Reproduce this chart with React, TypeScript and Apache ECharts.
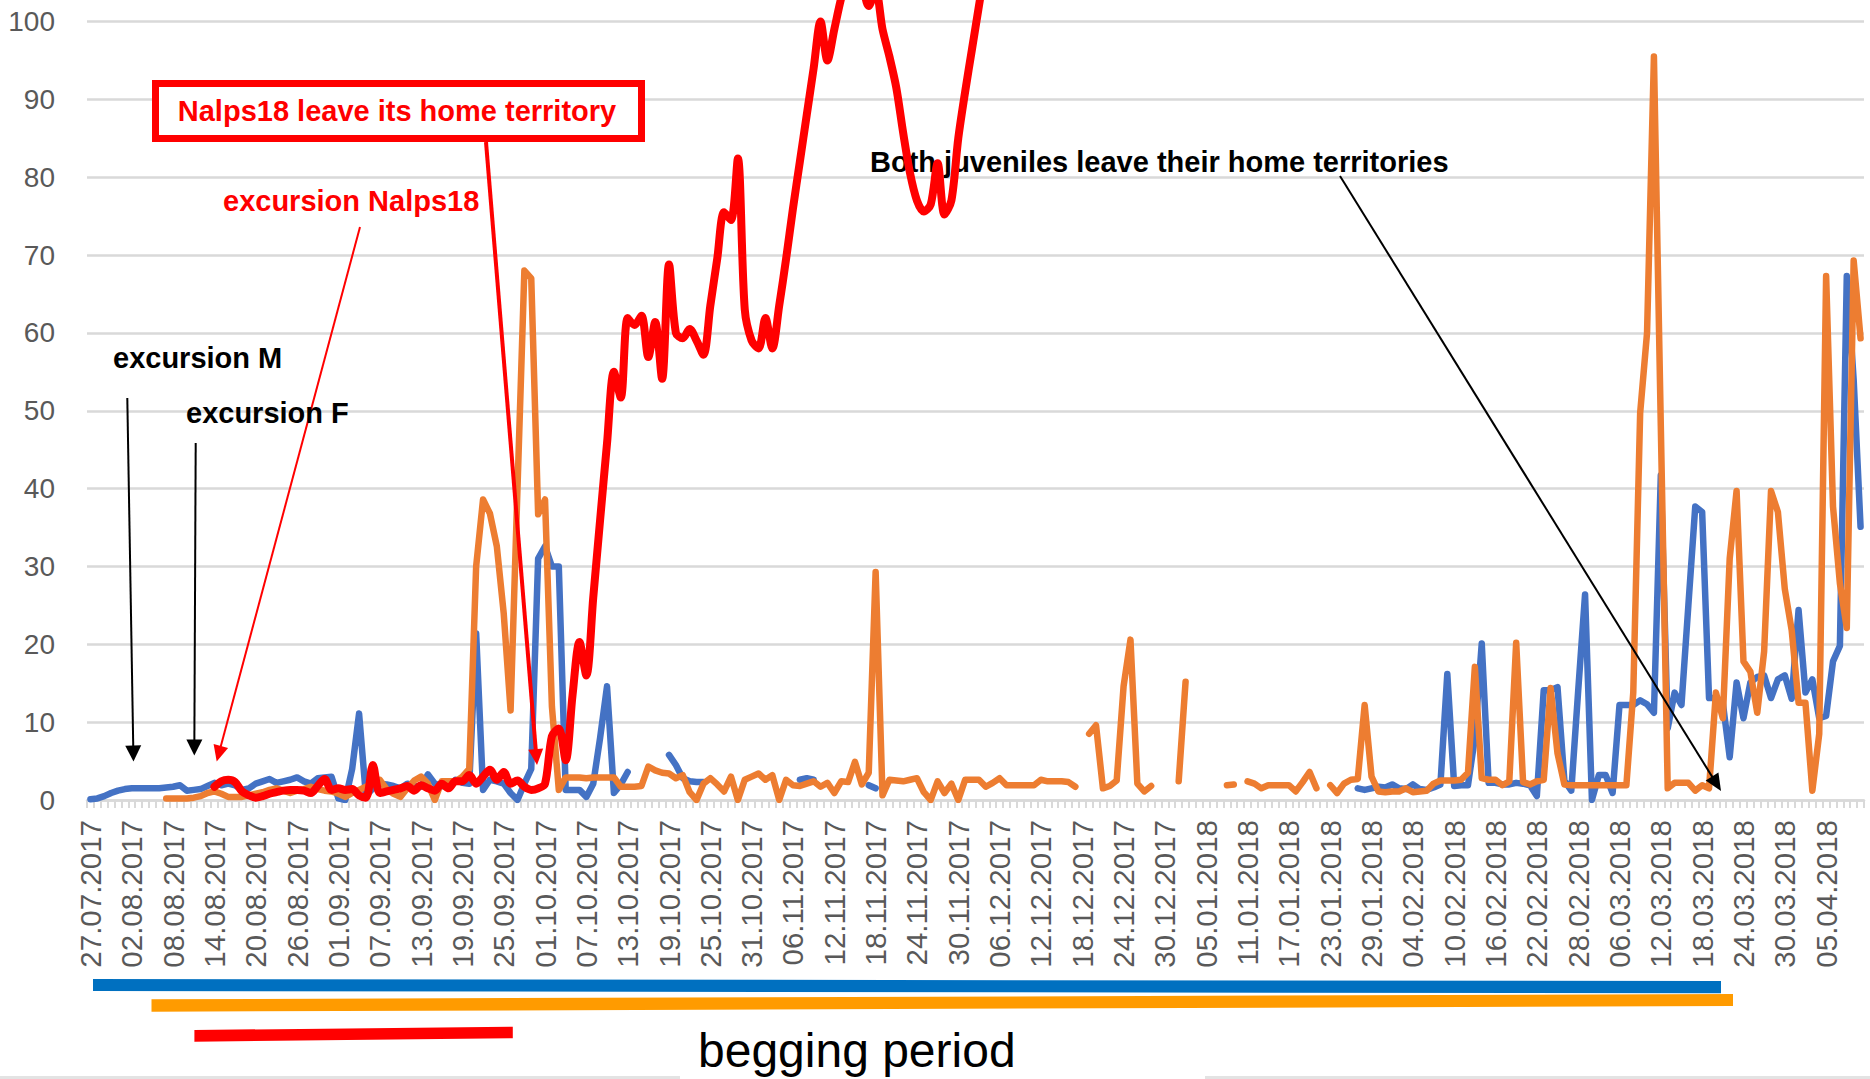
import React, { useEffect, useRef } from "react";
import * as echarts from "echarts";

// ---------- categories ----------
const N_DAYS = 258; // 27.07.2017 .. 10.04.2018
const pad = (n: number) => (n < 10 ? "0" + n : "" + n);
const dates: string[] = [];
for (let k = 0; k < N_DAYS; k++) {
  const d = new Date(Date.UTC(2017, 6, 27 + k));
  dates.push(pad(d.getUTCDate()) + "." + pad(d.getUTCMonth() + 1) + "." + d.getUTCFullYear());
}

const _ = null;
// ---------- series values ----------
const blue: (number | null)[] = [
  0.1, 0.2, 0.5, 0.9, 1.2, 1.4, 1.5, 1.5, 1.5, 1.5,
  1.5, 1.6, 1.7, 1.9, 1.2, 1.3, 1.4, 1.8, 2.2, 1.9,
  2.1, 1.9, 1.3, 1.5, 2.1, 2.4, 2.7, 2.2, 2.4, 2.6,
  2.9, 2.4, 2.1, 2.8, 2.9, 3.0, 0.2, 0, 4, 11.1,
  0.5, 1.5, 2.1, 2.0, 1.8, 1.5, 2.1, 1.8, 1.7, 3.3,
  2.1, 1.8, 1.7, 2.6, 2.2, 2.1, 21.4, 1.3, 2.6, 2.4,
  2.1, 0.9, 0, 2.1, 4, 31, 32.6, 30, 30, 1.3,
  1.3, 1.3, 0.4, 2.1, 8, 14.6, 0.9, 2.0, 3.6, _,
  _, _, _, _, 5.8, 4.5, 2.8, 2.4, 2.3, 2.3,
  _, _, _, _, _, _, _, _, _, _,
  _, _, _, 2.6, 2.8, 2.6, _, _, _, _,
  _, _, _, 1.9, 1.5, _, _, _, _, _,
  _, _, _, _, _, _, _, _, _, _,
  _, _, _, _, _, _, _, _, _, _,
  _, _, _, _, _, _, _, _, _, _,
  _, _, _, _, _, _, _, _, _, _,
  _, _, _, _, _, _, _, _, _, _,
  _, _, _, _, _, _, _, _, _, _,
  _, _, _, _, 1.5, 1.3, 1.5, 1.7, 1.6, 2.0,
  1.5, 1.4, 2.0, 1.4, 1.3, 1.6, 2.0, 16.2, 1.8, 1.9,
  1.9, 8, 20.1, 2.2, 2.2, 2.0, 2.0, 2.2, 2.1, 1.9,
  0.5, 14.1, 14.1, 14.5, 2.5, 1.2, 14, 26.4, 0, 3.2,
  3.2, 0.9, 12.2, 12.2, 12.2, 12.8, 12.3, 11.2, 41.7, 9.2,
  13.8, 12.2, 25, 37.7, 37, 13.1, 13.1, 12.5, 5.5, 15.1,
  10.5, 15.1, 15.8, 16, 13.1, 15.5, 16, 13, 24.4, 13.8,
  15.5, 10.5, 10.8, 17.8, 19.8, 67.3, 54, 35.1,
];

const orange: (number | null)[] = [
  _, _, _, _, _, _, _, _, _, _,
  _, 0.2, 0.2, 0.2, 0.2, 0.3, 0.5, 0.9, 1.1, 0.8,
  0.4, 0.4, 0.4, 0.6, 0.8, 1.0, 1.3, 1.5, 1.2, 0.9,
  1.2, 1.4, 1.7, 1.4, 1.2, 1.1, 0.8, 0.4, 0.9, 1.3,
  1.7, 2.2, 2.6, 1.4, 0.8, 0.4, 1.5, 2.5, 3.0, 2.1,
  0, 2.4, 2.4, 2.4, 3.0, 4, 30, 38.6, 36.8, 32.6,
  24, 11.5, 40, 68, 67, 36.7, 38.6, 12, 1.3, 2.9,
  2.9, 2.9, 2.8, 2.9, 2.9, 2.9, 2.9, 1.7, 1.7, 1.7,
  1.8, 4.3, 3.8, 3.5, 3.4, 2.8, 3.2, 1.0, 0, 2.1,
  2.8, 2.0, 1.1, 3.0, 0, 2.6, 3.0, 3.4, 2.6, 3.2,
  0, 2.6, 1.9, 1.8, 2.1, 2.4, 1.7, 2.2, 0.9, 2.4,
  2.3, 4.9, 2.0, 3.5, 29.3, 0.6, 2.6, 2.5, 2.4, 2.6,
  2.8, 1.0, 0, 2.4, 0.9, 2.1, 0, 2.6, 2.6, 2.6,
  1.7, 2.2, 2.8, 1.9, 1.9, 1.9, 1.9, 1.9, 2.6, 2.4,
  2.4, 2.4, 2.3, 1.7, _, 8.5, 9.6, 1.5, 1.8, 2.5,
  14.6, 20.6, 2.1, 1.1, 1.8, _, _, _, 2.4, 15.2,
  _, _, _, _, _, 1.9, 2.0, _, 2.4, 2.1,
  1.5, 1.9, 1.9, 1.9, 1.9, 1.1, 2.3, 3.6, 1.5, _,
  1.9, 0.9, 2.1, 2.6, 2.7, 12.2, 3.0, 1.1, 1.0, 1.1,
  1.1, 1.5, 1.0, 1.1, 1.2, 2.1, 2.5, 2.5, 2.5, 2.6,
  3.5, 17.1, 2.8, 2.6, 2.6, 1.9, 2.4, 20.2, 2.3, 2.0,
  2.4, 2.6, 14.4, 6, 2.0, 1.9, 1.9, 1.9, 1.9, 1.9,
  1.9, 1.9, 1.9, 1.9, 13.8, 49.7, 60, 95.5, 48, 1.5,
  2.2, 2.2, 2.2, 1.2, 1.9, 1.5, 13.8, 10.5, 31, 39.7,
  17.8, 16.5, 11.2, 19.1, 39.7, 37, 27.1, 21.8, 12.5, 12.5,
  1.2, 8.5, 67.3, 37.7, 27.8, 22.1, 69.3, 59.3,
];

const red: (number | null)[] = [
  _, _, _, _, _, _, _, _, _, _,
  _, _, _, _, _, _, _, _, 1.7, 2.4,
  2.6, 2.3, 1.1, 0.6, 0.3, 0.5, 0.8, 1.0, 1.2, 1.3,
  1.3, 1.2, 0.9, 1.8, 2.7, 1.3, 1.5, 1.3, 1.4, 0.6,
  0.3, 4.5, 0.9, 1.1, 1.3, 1.5, 1.8, 1.2, 1.9, 1.5,
  1.2, 2.1, 1.5, 2.4, 2.4, 3.2, 2.1, 3.0, 3.9, 2.6,
  3.6, 2.1, 2.5, 1.7, 1.3, 1.5, 2.1, 8.2, 9.2, 5.1,
  13.5, 20.3, 16, 26, 36, 45.8, 55, 51.7, 61.9, 61,
  62.2, 56.9, 61.4, 54.1, 68.8, 60, 59.3, 60.5, 59, 57.2,
  63.5, 69.5, 75.5, 74.5, 82.4, 63, 59, 58, 61.9, 58,
  63.5, 69.5, 76, 82, 88, 94, 100, 95, 99, 103,
  106, 107, 105, 102, 104, 99, 95.5, 91.5, 85.7, 80.5,
  77, 75.6, 76.5, 81.8, 75.2, 77, 85, 91, 96.5, 102,
  107.5, 113, 118, 124,
];

const yTicks = [0, 10, 20, 30, 40, 50, 60, 70, 80, 90, 100];

// ---------- layout (page coords, chart div shifted up by OY) ----------
const OY = 80;
const FONT = '"Liberation Sans", Arial, sans-serif';

function arrow(x1: number, y1: number, x2: number, y2: number, color: string, w: number, hl: number, hw: number, z: number) {
  const dx = x2 - x1, dy = y2 - y1;
  const L = Math.hypot(dx, dy);
  const ux = dx / L, uy = dy / L;
  const bx = x2 - ux * hl, by = y2 - uy * hl;
  const px = -uy, py = ux;
  return [
    { type: "line", z, shape: { x1, y1: y1 + OY, x2: bx + ux, y2: by + uy + OY }, style: { stroke: color, lineWidth: w } },
    {
      type: "polygon", z,
      shape: { points: [[x2, y2 + OY], [bx + (px * hw) / 2, by + (py * hw) / 2 + OY], [bx - (px * hw) / 2, by - (py * hw) / 2 + OY]] },
      style: { fill: color },
    },
  ];
}

function label(text: string, x: number, y: number, color: string, size: number, weight: string, z: number, align = "left") {
  return {
    type: "text", z, x, y: y + OY,
    style: {
      text, fill: color, font: `${weight} ${size}px ${FONT}`,
      align, textAlign: align, verticalAlign: "middle", textVerticalAlign: "middle",
    },
  };
}

function band(pts: number[][], color: string) {
  return { type: "polygon", z: 10, shape: { points: pts.map((p) => [p[0], p[1] + OY]) }, style: { fill: color } };
}

export default function App() {
  const ref = useRef<HTMLDivElement>(null);
  useEffect(() => {
    document.body.style.margin = "0";
    document.documentElement.style.overflow = "hidden";
    const chart = echarts.init(ref.current!, undefined, { renderer: "svg" });
    const axisGray = "#d9d9d9";
    const option: any = {
      animation: false,
      backgroundColor: "#ffffff",
      grid: { left: 87, right: 6, top: 23.65, bottom: 279, containLabel: false },
      xAxis: {
        type: "category",
        data: dates,
        boundaryGap: true,
        axisLine: { show: true, lineStyle: { color: axisGray, width: 2.5 } },
        axisTick: { show: true, interval: 0, length: 8, lineStyle: { color: axisGray, width: 2 } },
        axisLabel: {
          interval: 5, rotate: 90, margin: 20, fontSize: 29.5, color: "#595959", fontFamily: FONT,
        },
        splitLine: { show: false },
      },
      yAxis: {
        type: "value",
        min: 0,
        max: 110,
        interval: 10,
        axisLine: { show: false },
        axisTick: { show: false },
        axisLabel: {
          margin: 32, fontSize: 28, color: "#595959", fontFamily: FONT,
          formatter: (v: number) => (yTicks.indexOf(v) >= 0 ? String(v) : ""),
        },
        splitLine: { show: true, lineStyle: { color: axisGray, width: 2.5 } },
      },
      series: [
        {
          name: "M", type: "line", data: blue, showSymbol: false, symbol: "none", z: 2,
          lineStyle: { color: "#4472C4", width: 6.5, cap: "round", join: "round" },
          itemStyle: { color: "#4472C4" },
        },
        {
          name: "F", type: "line", data: orange, showSymbol: false, symbol: "none", z: 3,
          lineStyle: { color: "#ED7D31", width: 6.5, cap: "round", join: "round" },
          itemStyle: { color: "#ED7D31" },
        },
        {
          name: "Nalps18", type: "line", data: red, showSymbol: false, symbol: "none", z: 4, smooth: 0.3,
          lineStyle: { color: "#FF0000", width: 8, cap: "round", join: "round" },
          itemStyle: { color: "#FF0000" },
        },
      ],
      graphic: {
        elements: [
          {
            type: "rect", z: 10,
            shape: { x: 155.5, y: 83.5 + OY, width: 486, height: 55 },
            style: { fill: "#ffffff", stroke: "#FF0000", lineWidth: 7 },
          },
          label("Nalps18 leave its home territory", 397, 110.5, "#FF0000", 29, "bold", 11, "center"),
          ...arrow(486, 142, 537, 765, "#FF0000", 4, 16, 15, 10),
          label("excursion Nalps18", 223, 200.5, "#FF0000", 29, "bold", 11),
          ...arrow(360, 227, 216.7, 761.5, "#FF0000", 2, 16, 15, 10),
          label("excursion M", 113, 358.3, "#000000", 29, "bold", 11),
          ...arrow(127.3, 398, 133.5, 761.5, "#000000", 2, 16, 16, 10),
          label("excursion F", 186, 413.3, "#000000", 29, "bold", 11),
          ...arrow(195.7, 443, 194.3, 755.5, "#000000", 2, 16, 16, 10),
          label("Both juveniles leave their home territories", 870, 162.3, "#000000", 29, "bold", 1),
          ...arrow(1340, 176, 1721, 791, "#000000", 2, 17, 15, 10),
          band([[93, 979], [1721, 981], [1721, 993.3], [93, 991]], "#0070C0"),
          band([[151.5, 999.3], [1733, 994], [1733, 1006], [151.5, 1011.7]], "#FF9B00"),
          band([[194.4, 1030], [512.8, 1026.7], [512.8, 1038.3], [194.4, 1041.7]], "#FF0000"),
          label("begging period", 698, 1050, "#000000", 48, "normal", 11),
          { type: "rect", z: 10, shape: { x: 0, y: 1076 + OY, width: 680, height: 3 }, style: { fill: "#e3e3e3" } },
          { type: "rect", z: 10, shape: { x: 1205, y: 1076 + OY, width: 665, height: 3 }, style: { fill: "#e3e3e3" } },
        ],
      },
    };
    chart.setOption(option);
    return () => chart.dispose();
  }, []);
  return (
    <div
      ref={ref}
      style={{ position: "absolute", left: 0, top: -OY, width: 1870, height: 1079 + OY, background: "#fff" }}
    />
  );
}
